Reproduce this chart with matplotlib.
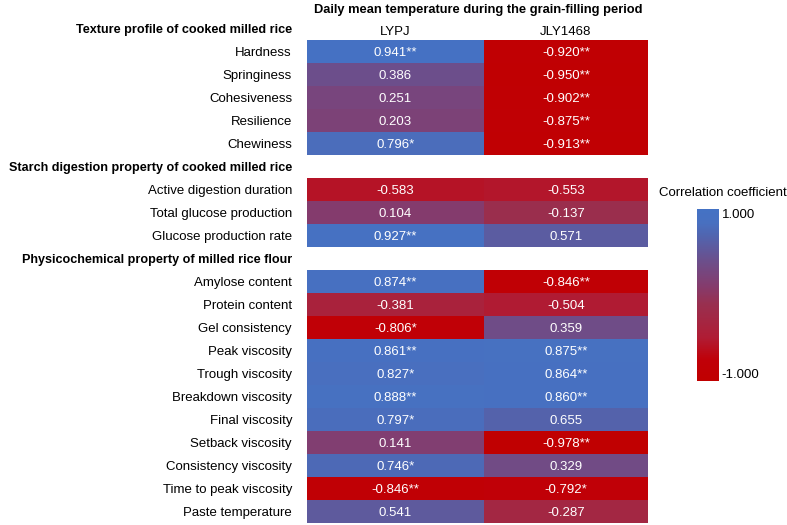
import numpy as np
import matplotlib.pyplot as plt
from matplotlib.colors import LinearSegmentedColormap

plt.rcParams['font.family'] = ['Liberation Sans', 'DejaVu Sans']

# section names and traits
sections = ['Texture profile of cooked milled rice',
            'Starch digestion property of cooked milled rice',
            'Physicochemical property of milled rice flour']

texture_traits = ['Hardness', 'Springiness', 'Cohesiveness', 'Resilience', 'Chewiness']
texture_lypj = [0.941, 0.386, 0.251, 0.203, 0.796]
texture_lypj_sig = ['**', '', '', '', '*']
texture_jly = [-0.920, -0.950, -0.902, -0.875, -0.913]
texture_jly_sig = ['**', '**', '**', '**', '**']

digest_traits = ['Active digestion duration', 'Total glucose production', 'Glucose production rate']
digest_lypj = [-0.583, 0.104, 0.927]
digest_lypj_sig = ['', '', '**']
digest_jly = [-0.553, -0.137, 0.571]
digest_jly_sig = ['', '', '']

flour_traits = ['Amylose content', 'Protein content', 'Gel consistency', 'Peak viscosity',
                'Trough viscosity', 'Breakdown viscosity', 'Final viscosity', 'Setback viscosity',
                'Consistency viscosity', 'Time to peak viscosity', 'Paste temperature']
flour_lypj = [0.874, -0.381, -0.806, 0.861, 0.827, 0.888, 0.797, 0.141, 0.746, -0.846, 0.541]
flour_lypj_sig = ['**', '', '*', '**', '*', '**', '*', '', '*', '**', '']
flour_jly = [-0.846, -0.504, 0.359, 0.875, 0.864, 0.860, 0.655, -0.978, 0.329, -0.792, -0.287]
flour_jly_sig = ['**', '', '', '**', '**', '**', '', '**', '', '*', '']

columns = ['LYPJ', 'JLY1468']
col_edges = [0, 177, 341]  # LYPJ column is a bit wider in the original

# stack rows, with an empty row for every section header after the first
labels, lypj, jly, lypj_sig, jly_sig, header_rows = [], [], [], [], [], []
blocks = [(texture_traits, texture_lypj, texture_lypj_sig, texture_jly, texture_jly_sig),
          (digest_traits, digest_lypj, digest_lypj_sig, digest_jly, digest_jly_sig),
          (flour_traits, flour_lypj, flour_lypj_sig, flour_jly, flour_jly_sig)]
for i, (tr, a, asig, b, bsig) in enumerate(blocks):
    if i > 0:
        header_rows.append(len(labels))
        labels.append(None); lypj.append(np.nan); jly.append(np.nan)
        lypj_sig.append(''); jly_sig.append('')
    labels += tr; lypj += a; jly += b; lypj_sig += asig; jly_sig += bsig

grid = np.ma.masked_invalid(np.array([lypj, jly]).T)
n = len(labels)

cmap = LinearSegmentedColormap.from_list('corr', [
    (0.0, '#C00000'), (0.12, '#C00008'), (0.25, '#B01C34'), (0.45, '#983050'),
    (0.55, '#853B6C'), (0.7, '#6B4F8C'), (0.85, '#5065B0'), (0.92, '#4870C0'), (1.0, '#4472C4')])
cmap.set_bad('white')

fig = plt.figure(figsize=(7.87, 5.25), dpi=100)
ax = fig.add_axes([307 / 787, 1 - 523 / 525, 341 / 787, 483 / 525])
mesh = ax.pcolormesh(col_edges, np.arange(n + 1), grid, cmap=cmap, vmin=-1, vmax=1)
ax.set_xlim(col_edges[0], col_edges[-1])
ax.set_ylim(n, 0)
ax.axis('off')

fs = 9.5
bfs = 9.05
centers = [(col_edges[i] + col_edges[i + 1]) / 2 for i in range(2)]
for r in range(n):
    if labels[r] is None:
        continue
    ax.text(-15, r + 0.5, labels[r], ha='right', va='center_baseline', fontsize=fs, clip_on=False)
    ax.text(centers[0], r + 0.5, f'{lypj[r]:.3f}{lypj_sig[r]}', ha='center', va='center_baseline',
            color='white', fontsize=fs)
    ax.text(centers[1], r + 0.5, f'{jly[r]:.3f}{jly_sig[r]}', ha='center', va='center_baseline',
            color='white', fontsize=fs)

# section headers
ax.text(-15, -0.5, sections[0], ha='right', va='center_baseline', fontsize=bfs,
        fontweight='bold', clip_on=False)
for name, r in zip(sections[1:], header_rows):
    ax.text(-15, r + 0.5, name, ha='right', va='center_baseline', fontsize=bfs, fontweight='bold')

for c, name in zip(centers, columns):
    ax.text(c, -0.4, name, ha='center', va='center_baseline', fontsize=fs, clip_on=False)

fig.text(478 / 787, 1 - 8 / 525, 'Daily mean temperature during the grain-filling period',
         ha='center', va='center_baseline', fontsize=9.3, fontweight='bold')

# colour bar
cax = fig.add_axes([697 / 787, 1 - 381 / 525, 22 / 787, 172 / 525])
cb = fig.colorbar(mesh, cax=cax, ticks=[-1, 1])
cb.outline.set_visible(False)
cb.ax.tick_params(length=0, labelsize=fs, pad=2)
cb.ax.set_yticklabels(['-1.000', '1.000'])
tl = cb.ax.get_yticklabels()
tl[0].set_va('bottom')
tl[1].set_va('top')
fig.text(723 / 787, 1 - 192 / 525, 'Correlation coefficient', ha='center', va='center_baseline', fontsize=fs)

fig.savefig('out.png', dpi=100)
